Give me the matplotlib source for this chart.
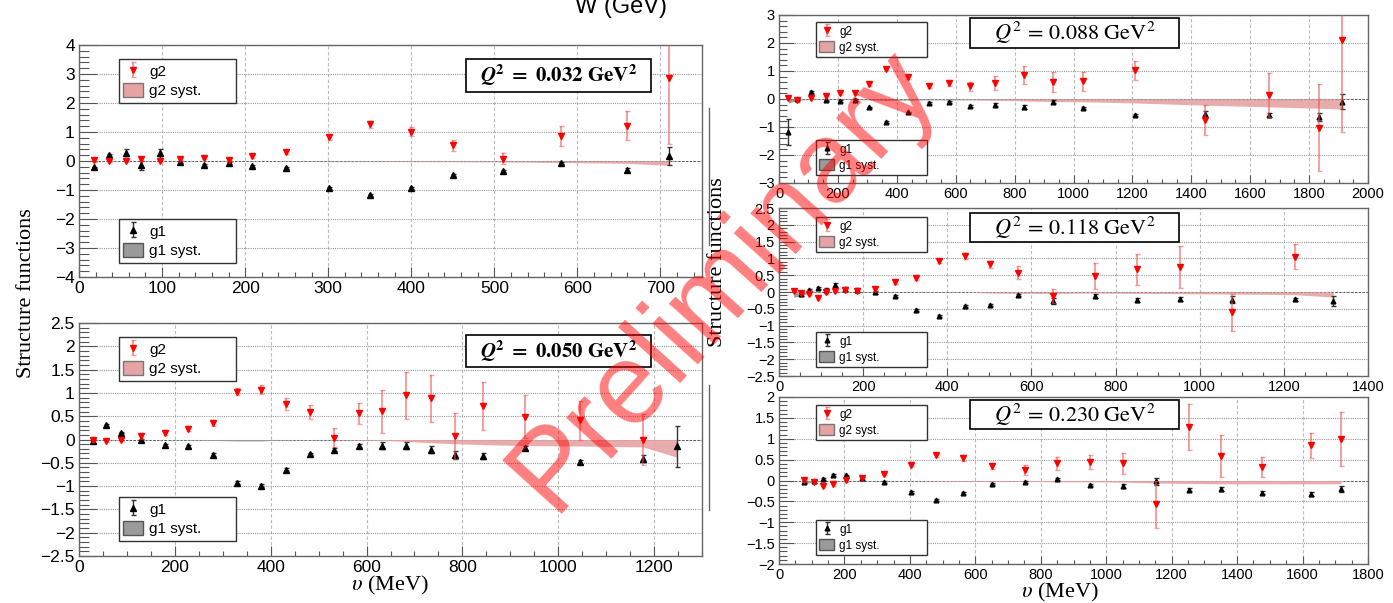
import numpy as np
import matplotlib.pyplot as plt
from matplotlib.ticker import MultipleLocator, FuncFormatter
from matplotlib.patches import Patch, Rectangle
from matplotlib.lines import Line2D

plt.rcParams['mathtext.fontset'] = 'stix'
plt.rcParams['font.family'] = ['Liberation Sans', 'DejaVu Sans']

nan = np.nan

# Q2 = 0.032 GeV^2
nu_032 = [18, 36, 56, 75, 97, 122, 151, 181, 208, 249, 301, 350, 400, 450, 510, 580, 660, 710]
g1_032 = [-0.22, 0.21, 0.29, -0.15, 0.26, -0.04, -0.13, -0.07, -0.16, -0.25, -0.92, -1.16, -0.92, -0.48, -0.34, -0.08, -0.31, 0.17]
g1_err_032 = [0.03, 0.04, 0.12, 0.15, 0.15, 0.04, 0.03, 0.03, 0.03, 0.03, 0.03, 0.03, 0.03, 0.03, 0.03, 0.04, 0.08, 0.3]
g1_sys_032 = [0, 0, 0, 0, 0, 0, 0, 0, 0, -0.01, -0.02, -0.02, -0.02, -0.02, -0.02, -0.02, -0.02, -0.02]
g2_032 = [0.03, 0.0, -0.01, 0.07, 0.01, 0.07, 0.1, 0.05, 0.16, 0.3, 0.84, 1.26, 1.01, 0.54, 0.08, 0.86, 1.22, 2.85]
g2_err_032 = [0.05, 0.03, 0.03, 0.06, 0.03, 0.04, 0.04, 0.04, 0.05, 0.07, 0.1, 0.12, 0.15, 0.18, 0.2, 0.35, 0.5, 2.25]
g2_sys_032 = [0, 0, 0, 0, 0, 0, 0, 0, 0, 0, 0, -0.01, -0.02, -0.02, -0.03, -0.05, -0.08, -0.15]

# Q2 = 0.050 GeV^2
nu_050 = [29, 57, 87, 129, 179, 228, 280, 330, 380, 432, 482, 532, 584, 632, 683, 734, 785, 844, 930, 1046, 1177, 1248]
g1_050 = [-0.03, 0.31, 0.15, -0.02, -0.12, -0.15, -0.33, -0.93, -0.99, -0.65, -0.31, -0.22, -0.13, -0.13, -0.13, -0.22, -0.33, -0.35, -0.18, -0.48, -0.41, -0.15]
g1_err_050 = [0.04, 0.02, 0.02, 0.03, 0.03, 0.03, 0.03, 0.03, 0.03, 0.03, 0.03, 0.03, 0.04, 0.07, 0.07, 0.07, 0.08, 0.06, 0.05, 0.05, 0.07, 0.44]
g1_sys_050 = [0, 0, 0, 0, 0, -0.01, -0.02, -0.03, -0.03, -0.01, -0.01, -0.01, -0.01, -0.01, -0.01, -0.01, -0.01, -0.01, -0.01, -0.01, -0.01, -0.01]
g2_050 = [-0.01, -0.03, -0.02, 0.07, 0.15, 0.23, 0.35, 1.03, 1.07, 0.76, 0.6, 0.04, 0.56, 0.61, 0.95, 0.88, 0.075, 0.72, 0.49, 0.41, 0.0, nan]
g2_err_050 = [0.03, 0.02, 0.02, 0.05, 0.05, 0.05, 0.07, 0.075, 0.09, 0.125, 0.15, 0.2, 0.23, 0.46, 0.5, 0.51, 0.49, 0.51, 0.46, 0.42, 0.54, nan]
g2_sys_050 = [0, 0, 0, 0, 0, 0, 0, 0, 0, 0, 0, 0, -0.01, -0.02, -0.04, -0.07, -0.09, -0.11, -0.13, -0.14, -0.16, -0.38]

# Q2 = 0.088 GeV^2
nu_088 = [31, 60, 107, 158, 207, 258, 307, 364, 438, 509, 577, 649, 732, 833, 932, 1031, 1208, 1446, 1664, 1834, 1911]
g1_088 = [-1.18, 0.0, 0.26, -0.05, -0.08, -0.03, -0.3, -0.82, -0.48, -0.15, -0.1, -0.25, -0.2, -0.28, -0.09, -0.32, -0.57, -0.53, -0.58, -0.65, -0.1]
g1_err_088 = [0.47, 0.05, 0.03, 0.03, 0.03, 0.03, 0.03, 0.03, 0.03, 0.03, 0.03, 0.04, 0.04, 0.07, 0.05, 0.04, 0.04, 0.1, 0.08, 0.15, 0.27]
g1_sys_088 = [-0.15, -0.05, -0.01, -0.01, -0.01, -0.02, -0.03, -0.05, -0.04, -0.03, -0.03, -0.03, -0.03, -0.03, -0.03, -0.03, -0.03, -0.03, -0.03, -0.03, -0.03]
g2_088 = [0.04, -0.04, 0.02, 0.11, 0.2, 0.23, 0.52, 1.08, 0.78, 0.45, 0.58, 0.45, 0.57, 0.87, 0.61, 0.63, 1.02, -0.75, 0.14, -1.03, 2.1]
g2_err_088 = [0.03, 0.05, 0.03, 0.03, 0.05, 0.06, 0.04, 0.05, 0.06, 0.07, 0.1, 0.15, 0.25, 0.32, 0.35, 0.34, 0.33, 0.52, 0.8, 1.55, 3.28]
g2_sys_088 = [0, 0, 0, 0, 0, 0, 0, 0, 0, 0, 0, -0.02, -0.04, -0.07, -0.09, -0.1, -0.14, -0.22, -0.28, -0.33, -0.36]

# Q2 = 0.118 GeV^2
nu_118 = [35, 52, 72, 92, 111, 132, 156, 185, 228, 275, 326, 381, 442, 501, 567, 651, 752, 852, 952, 1077, 1227, 1317]
g1_118 = [nan, -0.07, 0.05, 0.12, 0.07, 0.22, 0.09, 0.06, -0.01, -0.13, -0.53, -0.71, -0.42, -0.4, -0.08, -0.27, -0.12, -0.23, -0.2, -0.23, -0.22, -0.27]
g1_err_118 = [nan, 0.05, 0.03, 0.03, 0.05, 0.06, 0.06, 0.05, 0.04, 0.03, 0.03, 0.04, 0.04, 0.03, 0.03, 0.08, 0.05, 0.06, 0.06, 0.1, 0.04, 0.15]
g1_sys_118 = [-0.15, -0.12, -0.02, -0.01, -0.01, -0.01, -0.01, -0.01, -0.01, -0.01, -0.01, -0.01, -0.01, -0.01, -0.01, -0.01, -0.01, -0.01, -0.01, -0.01, -0.01, -0.01]
g2_118 = [0.03, -0.03, -0.07, -0.18, 0.0, 0.02, 0.06, 0.03, 0.09, 0.3, 0.43, 0.93, 1.07, 0.82, 0.58, -0.12, 0.47, 0.67, 0.74, -0.6, 1.05, nan]
g2_err_118 = [0.02, 0.02, 0.02, 0.03, 0.05, 0.02, 0.04, 0.02, 0.05, 0.05, 0.06, 0.06, 0.09, 0.1, 0.18, 0.2, 0.38, 0.45, 0.62, 0.55, 0.37, nan]
g2_sys_118 = [0, 0, 0, 0, 0, 0, 0, 0, 0, 0, 0, 0, 0, -0.03, -0.04, -0.04, -0.03, -0.04, -0.05, -0.06, -0.08, -0.15]

# Q2 = 0.230 GeV^2
nu_230 = [77, 106, 135, 165, 204, 255, 321, 403, 480, 561, 651, 751, 850, 951, 1050, 1151, 1252, 1350, 1475, 1626, 1717]
g1_230 = [-0.04, -0.02, 0.04, 0.13, 0.12, 0.05, -0.04, -0.28, -0.47, -0.3, -0.08, -0.03, 0.04, -0.11, -0.13, -0.02, -0.22, -0.2, -0.29, -0.32, -0.21]
g1_err_230 = [0.02, 0.04, 0.02, 0.02, 0.02, 0.03, 0.02, 0.02, 0.02, 0.02, 0.02, 0.02, 0.02, 0.02, 0.04, 0.08, 0.04, 0.05, 0.04, 0.04, 0.07]
g1_sys_230 = [-0.08, -0.03, -0.005, -0.005, -0.005, -0.005, -0.005, -0.005, -0.005, -0.005, -0.005, -0.005, -0.005, -0.005, -0.005, -0.005, -0.005, -0.005, -0.005, -0.005, -0.005]
g2_230 = [0.02, -0.04, -0.13, -0.09, 0.01, 0.07, 0.15, 0.37, 0.6, 0.53, 0.34, 0.26, 0.41, 0.45, 0.41, -0.57, 1.28, 0.58, 0.32, 0.84, 1.0]
g2_err_230 = [0.02, 0.03, 0.03, 0.03, 0.04, 0.03, 0.03, 0.03, 0.03, 0.07, 0.07, 0.12, 0.16, 0.17, 0.25, 0.57, 0.55, 0.5, 0.24, 0.3, 0.65]
g2_sys_230 = [0, 0, 0, 0, 0, 0, 0, 0, -0.01, -0.02, -0.02, -0.02, -0.03, -0.03, -0.04, -0.06, -0.07, -0.08, -0.08, -0.08, -0.08]

W, H = 1393, 603
fig = plt.figure(figsize=(W / 100, H / 100), dpi=100)


def px_axes(x0, y0, x1, y1):
    return fig.add_axes([x0 / W, 1 - y1 / H, (x1 - x0) / W, (y1 - y0) / H])


def fmt(v, p):
    return ('%g' % v).replace('-', '\u2212')


def draw_panel(ax, nu, g1, g1e, g1s, g2, g2e, g2s, q2, xlim, xmaj, xmin_, ylim, ymaj, ymin_,
               leg2, leg1, qbox, fs_tick, fs_leg, fs_q, scale=1.0):
    ax.set_xlim(*xlim)
    ax.set_ylim(*ylim)
    ax.xaxis.set_major_locator(MultipleLocator(xmaj))
    ax.xaxis.set_minor_locator(MultipleLocator(xmin_))
    ax.yaxis.set_major_locator(MultipleLocator(ymaj))
    ax.yaxis.set_minor_locator(MultipleLocator(ymin_))
    ax.xaxis.set_major_formatter(FuncFormatter(fmt))
    ax.yaxis.set_major_formatter(FuncFormatter(fmt))
    ax.tick_params(which='both', direction='in', top=False, right=False,
                   labelsize=fs_tick, color='#555555', width=0.8, pad=3)
    ax.tick_params(axis='y', which='major', length=13 * scale)
    ax.tick_params(axis='y', which='minor', length=7 * scale)
    ax.tick_params(axis='x', which='major', length=7 * scale)
    ax.tick_params(axis='x', which='minor', length=3.5 * scale)
    ax.xaxis.grid(True, ls=(0, (3, 2)), color='#bbbbbb', lw=0.8)
    ax.yaxis.grid(True, ls=(0, (1, 1)), color='#999999', lw=0.8)
    ax.set_axisbelow(True)
    for s in ax.spines.values():
        s.set_color('#666666')
        s.set_linewidth(1)
    ax.axhline(0, color='#555555', ls=(0, (2, 2)), lw=0.7, zorder=1)

    ax.fill_between(nu, 0, g1s, color='#9a9a9a', lw=0, zorder=2)
    ax.fill_between(nu, 0, g2s, color='#e6a3a3', lw=0, zorder=2, alpha=0.9)
    e1 = ax.errorbar(nu, g1, yerr=g1e, fmt='^', ms=4.0 * scale, color='black', ecolor='#333333',
                     elinewidth=1, capsize=1.8, capthick=1, zorder=4)
    e2 = ax.errorbar(nu, g2, yerr=g2e, fmt='v', ms=5 * scale, color='red', ecolor=(0.95, 0.3, 0.3, 0.55),
                     elinewidth=1.4, capsize=1.8, capthick=1, zorder=5)

    p2 = Patch(fc='#e6a3a3', ec='#777777', lw=1)
    p1 = Patch(fc='#9a9a9a', ec='#555555', lw=1)
    kw = dict(loc='upper left', mode='expand', borderaxespad=0, fancybox=False, framealpha=1,
              edgecolor='#333333', handlelength=1.3, handleheight=1.0, handletextpad=0.4,
              borderpad=0.3, labelspacing=0.3, fontsize=fs_leg)
    l2 = ax.legend([e2, p2], ['g2', 'g2 syst.'], bbox_to_anchor=leg2, **kw)
    l2.set_zorder(7)
    ax.add_artist(l2)
    l1 = ax.legend([e1, p1], ['g1', 'g1 syst.'], bbox_to_anchor=leg1, **kw)
    l1.set_zorder(7)

    x0, y0, w, h = qbox
    ax.add_patch(Rectangle((x0, y0), w, h, transform=ax.transAxes, fc='white', ec='black', lw=1.2, zorder=6))
    ax.text(x0 + w / 2, y0 + h / 2, q2, transform=ax.transAxes, ha='center', va='center',
            fontsize=fs_q, zorder=7)


ax1 = px_axes(79, 45, 702, 277)
draw_panel(ax1, nu_032, g1_032, g1_err_032, g1_sys_032, g2_032, g2_err_032, g2_sys_032,
           r'$\mathbfit{Q}^{\mathbf{2}}\mathbf{\ =\ 0.032\ GeV}^{\mathbf{2}}$',
           (0, 750), 100, 20, (-4, 4), 1, 0.2,
           (0.064, 0.75, 0.188, 0.19), (0.064, 0.06, 0.188, 0.19), (0.621, 0.797, 0.297, 0.143),
           12.5, 11, 15)

ax2 = px_axes(79, 323, 702, 556)
draw_panel(ax2, nu_050, g1_050, g1_err_050, g1_sys_050, g2_050, g2_err_050, g2_sys_050,
           r'$\mathbfit{Q}^{\mathbf{2}}\mathbf{\ =\ 0.050\ GeV}^{\mathbf{2}}$',
           (0, 1300), 200, 50, (-2.5, 2.5), 0.5, 0.1,
           (0.064, 0.751, 0.188, 0.189), (0.064, 0.064, 0.188, 0.189), (0.621, 0.811, 0.297, 0.137),
           12.5, 11, 15)

ax3 = px_axes(779, 15, 1368, 183)
draw_panel(ax3, nu_088, g1_088, g1_err_088, g1_sys_088, g2_088, g2_err_088, g2_sys_088,
           r'$Q^2\, =\, 0.088\ \mathrm{GeV}^2$',
           (0, 2000), 200, 50, (-3, 3), 1, 0.2,
           (0.062, 0.786, 0.19, 0.172), (0.062, 0.065, 0.19, 0.191), (0.324, 0.804, 0.355, 0.178),
           10.5, 8.5, 16, scale=0.85)

ax4 = px_axes(779, 208, 1368, 376)
draw_panel(ax4, nu_118, g1_118, g1_err_118, g1_sys_118, g2_118, g2_err_118, g2_sys_118,
           r'$Q^2\, =\, 0.118\ \mathrm{GeV}^2$',
           (0, 1400), 200, 50, (-2.5, 2.5), 0.5, 0.1,
           (0.062, 0.756, 0.19, 0.19), (0.062, 0.06, 0.19, 0.202), (0.324, 0.798, 0.355, 0.172),
           10.5, 8.5, 16, scale=0.85)

ax5 = px_axes(779, 397, 1368, 564)
draw_panel(ax5, nu_230, g1_230, g1_err_230, g1_sys_230, g2_230, g2_err_230, g2_sys_230,
           r'$Q^2\, =\, 0.230\ \mathrm{GeV}^2$',
           (0, 1800), 200, 50, (-2, 2), 0.5, 0.1,
           (0.062, 0.766, 0.19, 0.186), (0.062, 0.078, 0.19, 0.185), (0.324, 0.808, 0.355, 0.174),
           10.5, 8.5, 16, scale=0.85)

# leftover frame edges between the two columns
for ya, yb in [(108, 245), (385, 510)]:
    fig.add_artist(Line2D([709 / W, 709 / W], [1 - ya / H, 1 - yb / H], color='#666666', lw=1))

serif = ['Liberation Serif', 'DejaVu Serif']
fig.text(27 / W, 1 - 293 / H, 'Structure functions', rotation=90, ha='center', va='center',
         fontsize=16, family=serif)
fig.text(718 / W, 1 - 262 / H, 'Structure functions', rotation=90, ha='center', va='center',
         fontsize=16, family=serif)
fig.text(390 / W, 1 - 585 / H, r'$\upsilon$ (MeV)', ha='center', va='center', fontsize=16, family=serif)
fig.text(1060 / W, 1 - 592 / H, r'$\upsilon$ (MeV)', ha='center', va='center', fontsize=16, family=serif)
fig.text(621 / W, 1 - 13 / H, 'W (GeV)', ha='center', va='baseline', fontsize=17)

fig.text(724 / W, 1 - 280 / H, 'Preliminary', rotation=48, rotation_mode='anchor', ha='center', va='center',
         fontsize=83, color='red', alpha=0.5, zorder=100)

fig.savefig('out.png', dpi=100)
